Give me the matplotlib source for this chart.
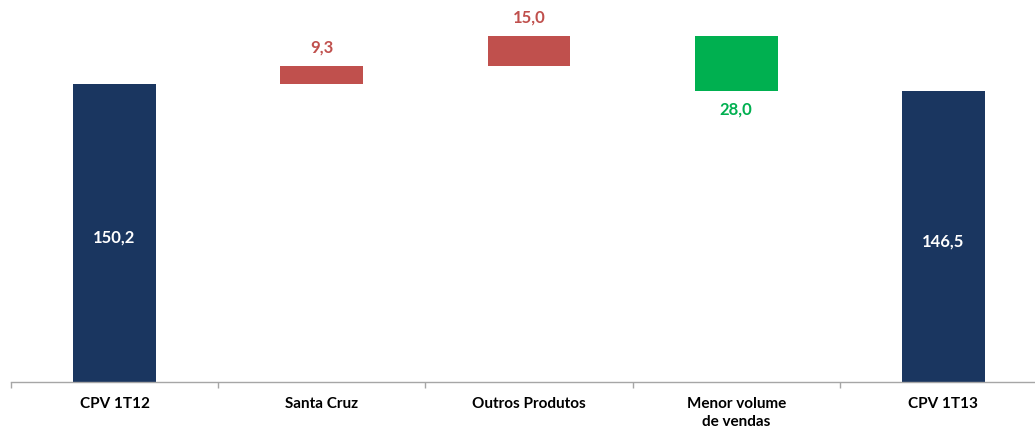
import matplotlib
matplotlib.use("Agg")
import matplotlib.pyplot as plt

categories = ["CPV 1T12", "Santa Cruz", "Outros Produtos", "Menor volume\nde vendas", "CPV 1T13"]
changes = [150.2, 9.3, 15.0, -28.0, 146.5]
kinds = ["total", "delta", "delta", "delta", "total"]
labels = ["150,2", "9,3", "15,0", "28,0", "146,5"]

NAVY = "#1A3660"
RED = "#C0504D"
GREEN = "#00B050"

plt.rcParams['font.family'] = ['Lato', 'DejaVu Sans']

fig = plt.figure(figsize=(10.35, 4.29), dpi=100)
ax = fig.add_axes([10.9/1035, (429-382)/429, (1047-10.9)/1035, (382-20)/429])

running = 0.0
for i, (c, k, lab) in enumerate(zip(changes, kinds, labels)):
    if k == "total":
        running = c
        ax.bar(i, c, bottom=0, width=0.4, color=NAVY)
        ax.text(i, c / 2 - 2.5, lab, ha="center", va="center", color="white",
                fontsize=12, fontweight="bold")
    else:
        if c >= 0:
            ax.bar(i, c, bottom=running, width=0.4, color=RED)
            ax.text(i, running + c + 5, lab, ha="center", va="bottom", color=RED,
                    fontsize=12, fontweight="bold")
        else:
            ax.bar(i, -c, bottom=running + c, width=0.4, color=GREEN)
            ax.text(i, running + c - 5, lab, ha="center", va="top", color=GREEN,
                    fontsize=12, fontweight="bold")
        running += c

ax.set_xlim(-0.5, len(categories) - 0.5)
ax.set_ylim(0, (382 - 20) / 1.984)
ax.set_xticks(range(len(categories)))
ax.set_xticklabels(categories, fontsize=11, fontweight="bold", linespacing=1.3)
ax.set_xticks([x - 0.5 for x in range(len(categories) + 1)], minor=True)
ax.tick_params(axis="x", which="major", length=0, pad=11)
ax.tick_params(axis="x", which="minor", length=4, color="#A6A6A6", width=1)
ax.set_yticks([])
for s in ["top", "right", "left"]:
    ax.spines[s].set_visible(False)
ax.spines["bottom"].set_color("#A6A6A6")
ax.spines["bottom"].set_linewidth(1)

fig.savefig("out.png", dpi=100)
